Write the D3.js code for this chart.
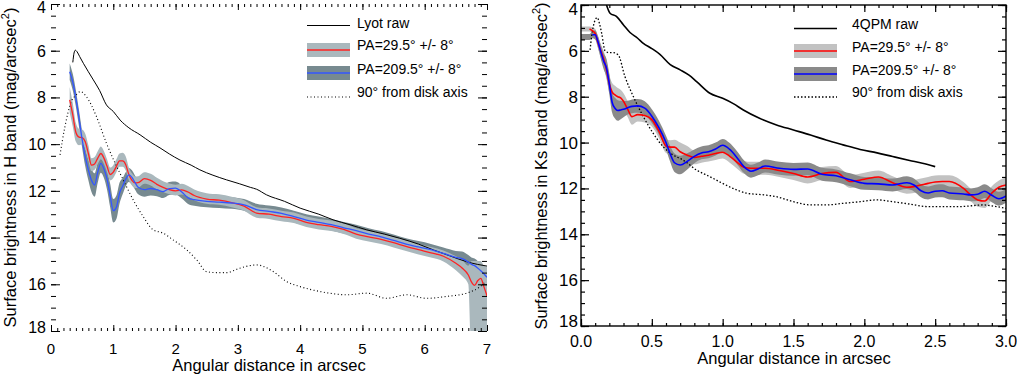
<!DOCTYPE html>
<html>
<head>
<meta charset="utf-8">
<script src="https://cdn.jsdelivr.net/npm/d3@7"></script>
<style>
    body { margin: 0; background: #fff; }
    svg { font-family: "Liberation Sans", Arial, Helvetica, sans-serif; display: block; }
</style>
</head>
<body>
<svg width="1017" height="376"></svg>
<script>
// ---------- H band, Lyot coronagraph (left) ----------
var hX = [0.30,0.35,0.40,0.45,0.50,0.55,0.60,0.65,0.70,0.75,0.80,0.85,0.90,0.95,1.00,1.05,1.10,1.15,1.20,1.25,
          1.30,1.35,1.40,1.50,1.60,1.70,1.80,1.90,2.00,2.10,2.20,2.30,2.50,2.70,2.90,3.10,3.30,3.50,3.70,3.90,
          4.10,4.30,4.50,4.70,4.90,5.10,5.30,5.50,5.70,5.90,6.10,6.30,6.50,6.60,6.70,6.75,6.80,6.85,6.90,6.95,7.00];
var hRed = [8.1,8.75,9.5,9.7,9.72,9.9,10.4,10.9,10.85,10.6,10.4,10.6,10.95,11.3,11.2,10.95,10.72,10.72,10.88,11.3,
            11.55,11.66,11.65,11.48,11.55,11.72,11.85,11.95,12.0,11.96,12.05,12.2,12.35,12.4,12.5,12.65,12.95,13.0,13.1,13.18,
            13.35,13.45,13.52,13.65,13.85,13.97,14.08,14.22,14.38,14.52,14.65,14.8,15.1,15.3,15.6,15.9,16.05,15.85,15.75,16.1,16.5];
var hRedUp = [0.55,0.5,0.4,0.35,0.35,0.35,0.35,0.3,0.3,0.3,0.3,0.3,0.3,0.3,0.3,0.3,0.32,0.35,0.35,0.3,
              0.3,0.28,0.28,0.28,0.28,0.28,0.26,0.26,0.26,0.26,0.26,0.26,0.25,0.25,0.25,0.25,0.25,0.25,0.25,0.25,
              0.25,0.25,0.25,0.25,0.25,0.25,0.25,0.25,0.25,0.25,0.25,0.25,0.3,0.35,0.4,0.9,1.05,0.85,0.75,0.9,1.25];
var hRedDn = [0.55,0.5,0.4,0.35,0.3,0.3,0.3,0.25,0.25,0.25,0.25,0.25,0.25,0.25,0.25,0.25,0.25,0.25,0.25,0.25,
              0.22,0.22,0.22,0.22,0.22,0.22,0.2,0.2,0.2,0.2,0.2,0.2,0.2,0.2,0.2,0.2,0.2,0.2,0.2,0.2,
              0.2,0.2,0.2,0.2,0.2,0.2,0.2,0.2,0.2,0.2,0.2,0.22,0.3,0.35,0.4,3,3,3,3,3,3];
var hBlue = [6.9,7.35,8.05,8.9,9.8,10.55,11.1,11.55,11.75,11.2,10.82,11.05,11.5,12.2,12.85,12.7,12.1,11.8,11.5,11.32,
             11.42,11.65,11.85,11.95,11.9,11.95,12.03,11.9,11.88,12.05,12.3,12.38,12.45,12.48,12.52,12.6,12.8,12.88,12.96,13.1,
             13.25,13.35,13.45,13.58,13.7,13.85,13.97,14.12,14.28,14.4,14.52,14.68,14.85,14.9,15.05,15.15,15.2,15.3,15.42,15.55,15.7];
var hBlueErr = [0.35,0.35,0.35,0.35,0.35,0.4,0.45,0.5,0.5,0.45,0.4,0.4,0.45,0.5,0.5,0.5,0.45,0.35,0.3,0.3,
                0.3,0.3,0.3,0.3,0.3,0.28,0.28,0.28,0.28,0.28,0.26,0.26,0.25,0.25,0.25,0.25,0.25,0.25,0.25,0.25,
                0.25,0.25,0.25,0.25,0.25,0.25,0.25,0.25,0.25,0.25,0.25,0.25,0.28,0.3,0.3,0.3,0.3,0.3,0.3,0.3,0.3];
var hRawX = [0.35,0.37,0.39,0.42,0.46,0.52,0.60,0.68,0.78,0.89,1.00,1.11,1.25,1.43,1.60,1.75,1.90,2.07,2.25,2.39,
             2.60,2.82,3.03,3.20,3.30,3.46,3.75,4.00,4.30,4.53,4.80,5.07,5.35,5.60,5.90,6.14,6.40,6.67,6.85,7.00];
var hRawY = [6.5,6.1,5.98,6.05,6.25,6.54,6.9,7.25,7.7,8.32,8.6,8.97,9.3,9.6,9.92,10.16,10.42,10.68,10.9,11.1,
             11.33,11.53,11.7,11.85,11.93,12.17,12.45,12.74,13.0,13.24,13.45,13.67,13.85,14.03,14.28,14.53,14.78,15.03,15.15,15.22];
var hPerpX = [0.145,0.22,0.33,0.40,0.47,0.57,0.73,0.89,1.03,1.16,1.32,1.48,1.64,1.80,1.96,2.18,2.34,2.50,2.66,2.82,
              3.03,3.30,3.57,3.78,4.00,4.32,4.75,5.07,5.39,5.71,6.03,6.35,6.67,6.89,6.98];
var hPerpY = [10.46,9.3,8.15,7.9,7.75,7.97,8.82,9.96,10.82,11.53,12.39,13.1,13.67,13.81,14.1,14.53,14.96,15.46,15.5,15.5,
              15.31,15.17,15.46,15.88,16.1,16.31,16.45,16.38,16.6,16.45,16.6,16.52,16.38,16.1,15.88];
var hXTicks = [0, 1, 2, 3, 4, 5, 6, 7];
var hXLabels = ["0", "1", "2", "3", "4", "5", "6", "7"];
var hYTicks = [4, 6, 8, 10, 12, 14, 16, 18];
var hLegend = ["Lyot raw", "PA=29.5\u00b0 +/- 8\u00b0", "PA=209.5\u00b0 +/- 8\u00b0", "90\u00b0 from disk axis"];

// ---------- Ks band, 4QPM coronagraph (right) ----------
var ksX = [0,0.06,0.08,0.10,0.12,0.14,0.16,0.18,0.20,0.22,0.24,0.26,0.28,0.30,0.33,0.36,0.40,0.45,0.50,0.55,
           0.60,0.63,0.66,0.70,0.75,0.80,0.85,0.90,0.95,1.00,1.05,1.10,1.15,1.20,1.25,1.30,1.40,1.50,1.60,1.70,
           1.80,1.90,2.00,2.10,2.20,2.30,2.35,2.40,2.45,2.50,2.55,2.60,2.70,2.75,2.80,2.85,2.90,2.95,3.00];
var ksRed = [5.05,5.05,5.12,5.24,5.65,6.0,6.35,6.83,7.45,7.8,7.92,8.0,8.05,8.2,8.55,8.87,8.78,8.82,9.0,9.5,
             10.15,10.2,10.2,10.4,10.55,10.65,10.6,10.55,10.48,10.42,10.6,10.85,11.08,11.12,11.12,11.12,11.22,11.35,11.5,11.35,
             11.3,11.7,11.6,11.5,11.75,11.95,11.92,11.85,11.78,11.72,11.7,11.7,12.0,12.28,12.5,12.55,12.2,11.95,11.85];
var ksRedErr = [0.11,0.11,0.15,0.2,0.25,0.3,0.35,0.4,0.4,0.4,0.4,0.38,0.35,0.35,0.35,0.35,0.3,0.3,0.3,0.3,
                0.3,0.3,0.32,0.4,0.4,0.3,0.28,0.28,0.28,0.28,0.28,0.28,0.28,0.28,0.28,0.28,0.28,0.28,0.28,0.28,
                0.28,0.28,0.28,0.28,0.28,0.28,0.28,0.28,0.28,0.28,0.28,0.28,0.28,0.28,0.3,0.3,0.3,0.3,0.3];
var ksBlue = [5.4,5.4,5.3,5.3,5.6,6.05,6.45,6.75,7.45,8.25,8.5,8.6,8.58,8.55,8.48,8.42,8.4,8.5,8.85,9.35,
              10.0,10.5,10.88,10.98,10.82,10.6,10.45,10.4,10.28,10.12,10.3,10.65,11.05,11.25,11.15,11.02,11.12,11.17,11.15,11.38,
              11.45,11.62,11.78,11.8,11.85,11.75,11.85,12.1,12.2,12.12,12.1,12.2,12.24,12.28,12.25,12.12,12.3,12.45,12.33];
var ksBlueErr = [0.13,0.13,0.15,0.2,0.25,0.3,0.35,0.4,0.45,0.45,0.45,0.45,0.4,0.35,0.3,0.3,0.3,0.3,0.3,0.3,
                 0.3,0.35,0.4,0.4,0.35,0.3,0.28,0.28,0.28,0.28,0.28,0.28,0.28,0.28,0.28,0.28,0.28,0.28,0.28,0.28,
                 0.28,0.28,0.28,0.28,0.28,0.28,0.28,0.28,0.28,0.28,0.28,0.28,0.28,0.28,0.3,0.3,0.3,0.3,0.3];
var ksRawX = [0.18,0.205,0.25,0.30,0.346,0.40,0.44,0.50,0.557,0.63,0.70,0.76,0.816,0.91,1.0,1.075,1.146,1.26,1.38,1.5,
              1.62,1.73,1.85,1.97,2.09,2.2,2.32,2.41,2.5];
var ksRawY = [4.0,4.36,4.5,4.87,5.2,5.45,5.67,5.9,6.15,6.6,6.83,7.05,7.34,7.85,8.07,8.3,8.58,8.94,9.23,9.45,
              9.67,9.89,10.1,10.3,10.45,10.61,10.78,10.9,11.05];
var ksPerpX = [0.064,0.075,0.10,0.115,0.13,0.146,0.17,0.20,0.228,0.263,0.31,0.37,0.44,0.51,0.58,0.65,0.72,0.816,0.91,1.0,
               1.1,1.17,1.29,1.38,1.5,1.62,1.73,1.85,1.97,2.09,2.2,2.32,2.44,2.56,2.68,2.84,2.92,3.0];
var ksPerpY = [5.96,5.38,4.65,4.55,4.8,5.24,6.0,6.08,6.08,6.18,7.12,8.0,8.87,9.6,10.18,10.54,10.76,11.2,11.49,11.78,
               12.07,12.21,12.28,12.36,12.58,12.72,12.72,12.65,12.58,12.5,12.58,12.68,12.79,12.79,12.79,12.72,12.78,12.87];
var ksXTicks = [0, 0.5, 1, 1.5, 2, 2.5, 3];
var ksXLabels = ["0.0", "0.5", "1.0", "1.5", "2.0", "2.5", "3.0"];
var ksYTicks = [4, 6, 8, 10, 12, 14, 16, 18];
var ksLegend = ["4QPM raw", "PA=29.5\u00b0 +/- 8\u00b0", "PA=209.5\u00b0 +/- 8\u00b0", "90\u00b0 from disk axis"];

var svg = d3.select("svg");

function drawPanel(p) {
    var x = d3.scaleLinear().domain(p.xDomain).range([p.left, p.right]);
    var y = d3.scaleLinear().domain([4, 18]).range([p.top, p.bottom]);

    var g = svg.append("g");

    g.append("clipPath")
        .attr("id", "clip-" + p.id)
        .append("rect")
        .attr("x", p.left)
        .attr("y", p.top)
        .attr("width", p.right - p.left)
        .attr("height", p.bottom - p.top);

    var plot = g.append("g").attr("clip-path", "url(#clip-" + p.id + ")");

    var rows = p.gridX.map(function (v, i) {
        return {x: v, red: p.red[i], redUp: p.redUp[i], redDn: p.redDn[i],
                blue: p.blue[i], blueErr: p.blueErr[i]};
    });

    // error bands
    var lightArea = d3.area().curve(d3.curveMonotoneX)
        .x(function (d) { return x(d.x); })
        .y0(function (d) { return y(d.red + d.redDn); })
        .y1(function (d) { return y(d.red - d.redUp); });
    var darkArea = d3.area().curve(d3.curveMonotoneX)
        .x(function (d) { return x(d.x); })
        .y0(function (d) { return y(d.blue + d.blueErr); })
        .y1(function (d) { return y(d.blue - d.blueErr); });
    var bands = [[lightArea, p.lightBand], [darkArea, p.darkBand]];
    if (p.lightOnTop) bands.reverse();
    bands.forEach(function (b) {
        plot.append("path")
            .datum(rows)
            .attr("fill", b[1])
            .attr("d", b[0]);
    });

    var line = d3.line().curve(d3.curveMonotoneX)
        .x(function (d) { return x(d[0]); })
        .y(function (d) { return y(d[1]); });

    plot.append("path") // 90 deg from disk axis
        .datum(d3.zip(p.perpX, p.perpY))
        .attr("fill", "none")
        .attr("stroke", "#000")
        .attr("stroke-width", p.perpWidth)
        .attr("stroke-dasharray", p.perpDash)
        .attr("d", line);
    plot.append("path") // raw profile
        .datum(d3.zip(p.rawX, p.rawY))
        .attr("fill", "none")
        .attr("stroke", "#000")
        .attr("stroke-width", p.rawWidth)
        .attr("d", line);

    var redLine = rows.filter(function (d) { return d.x >= p.redFrom; })
        .map(function (d) { return [d.x, d.red]; });
    var blueLine = rows.filter(function (d) { return d.x >= p.blueFrom; })
        .map(function (d) { return [d.x, d.blue]; });
    plot.append("path")
        .datum(redLine)
        .attr("fill", "none")
        .attr("stroke", p.redColor)
        .attr("stroke-width", p.lineWidth)
        .attr("d", line);
    plot.append("path")
        .datum(blueLine)
        .attr("fill", "none")
        .attr("stroke", p.blueColor)
        .attr("stroke-width", p.lineWidth)
        .attr("d", line);

    // frame (right panel only)
    if (p.frame) {
        g.append("rect")
            .attr("x", p.left)
            .attr("y", p.top)
            .attr("width", p.right - p.left)
            .attr("height", p.bottom - p.top)
            .attr("fill", "none")
            .attr("stroke", "#000")
            .attr("stroke-width", 1.4);
    }

    // inward ticks on all four sides
    function ticks(axisFn, scale, values, size, tr) {
        g.append("g")
            .attr("transform", tr)
            .call(axisFn(scale).tickValues(values).tickSize(size).tickFormat(""))
            .call(function (s) { s.select(".domain").remove(); })
            .selectAll("line").attr("stroke-width", p.tickWidth);
    }
    var xMinor = d3.range(p.xDomain[0], p.xDomain[1] + 1e-6, p.xMinorStep);
    var yMinor = d3.range(4, 18 + 1e-6, 0.5);
    ticks(d3.axisBottom, x, xMinor, -p.xMinorLen, "translate(0," + p.bottom + ")");
    ticks(d3.axisBottom, x, p.xTicks, -p.xMajorLen, "translate(0," + p.bottom + ")");
    ticks(d3.axisTop, x, xMinor, -p.xMinorLen, "translate(0," + p.top + ")");
    ticks(d3.axisTop, x, p.xTicks, -p.xMajorLen, "translate(0," + p.top + ")");
    ticks(d3.axisLeft, y, yMinor, -p.yMinorLen, "translate(" + p.left + ",0)");
    ticks(d3.axisLeft, y, p.yTicks, -p.yMajorLen, "translate(" + p.left + ",0)");
    ticks(d3.axisRight, y, yMinor, -p.yMinorLen, "translate(" + p.right + ",0)");
    ticks(d3.axisRight, y, p.yTicks, -p.yMajorLen, "translate(" + p.right + ",0)");

    // tick labels
    g.selectAll(".xlab")
        .data(p.xTicks)
        .enter()
        .append("text")
        .attr("x", function (d) { return x(d); })
        .attr("y", p.xLabelY)
        .attr("text-anchor", "middle")
        .attr("font-size", p.xLabelSize)
        .text(function (d, i) { return p.xLabels[i]; });
    g.selectAll(".ylab")
        .data(p.yTicks)
        .enter()
        .append("text")
        .attr("x", p.yLabelX)
        .attr("y", function (d) {
            return Math.max(p.yLabMin, Math.min(p.yLabMax, y(d))) + p.yLabShift;
        })
        .attr("text-anchor", "end")
        .attr("font-size", p.yLabelSize)
        .text(function (d) { return d; });

    // axis titles
    g.append("text")
        .attr("x", p.xTitle[0])
        .attr("y", p.xTitle[1])
        .attr("text-anchor", "middle")
        .attr("font-size", 16.5)
        .text("Angular distance in arcsec");
    var yt = g.append("text")
        .attr("transform", "translate(" + p.yTitle[0] + "," + p.yTitle[1] + ") rotate(-90)")
        .attr("text-anchor", "middle")
        .attr("font-size", 16.5);
    yt.append("tspan").text("Surface brightness in " + p.band + " band (mag/arcsec");
    yt.append("tspan").attr("dy", -7).attr("font-size", 11).text("2");
    yt.append("tspan").attr("dy", 7).text(")");

    // legend
    var L = p.legend;
    g.append("line") // raw
        .attr("x1", L.x0).attr("x2", L.x1)
        .attr("y1", L.rowY[0]).attr("y2", L.rowY[0])
        .attr("stroke", "#000").attr("stroke-width", p.rawWidth);
    [[p.lightBand, p.redColor], [p.darkBand, p.blueColor]].forEach(function (c, i) {
        g.append("rect")
            .attr("x", L.x0).attr("width", L.x1 - L.x0)
            .attr("y", L.rowY[i + 1] - 7).attr("height", 14)
            .attr("fill", c[0]);
        g.append("line")
            .attr("x1", L.x0).attr("x2", L.x1)
            .attr("y1", L.rowY[i + 1]).attr("y2", L.rowY[i + 1])
            .attr("stroke", c[1]).attr("stroke-width", 1.6);
    });
    g.append("line") // 90 deg
        .attr("x1", L.x0).attr("x2", L.x1)
        .attr("y1", L.rowY[3]).attr("y2", L.rowY[3])
        .attr("stroke", "#000").attr("stroke-width", p.perpWidth)
        .attr("stroke-dasharray", p.perpDash);
    g.selectAll(".leg")
        .data(p.legendText)
        .enter()
        .append("text")
        .attr("x", L.tx)
        .attr("y", function (d, i) { return L.textY[i]; })
        .attr("font-size", 14)
        .text(function (d) { return d; });
}

drawPanel({
    id: "h", band: "H", xDomain: [0, 7],
    left: 51, right: 487, top: 4, bottom: 331, frame: false, lightOnTop: true,
    gridX: hX, red: hRed, redUp: hRedUp, redDn: hRedDn, blue: hBlue, blueErr: hBlueErr,
    rawX: hRawX, rawY: hRawY, perpX: hPerpX, perpY: hPerpY,
    redFrom: 0, blueFrom: 0,
    lightBand: "#aab8bd", darkBand: "#778a90", redColor: "#ff2222", blueColor: "#3356ff",
    lineWidth: 1.3, rawWidth: 1, perpWidth: 1.1, perpDash: "1,2.5",
    xTicks: hXTicks, xLabels: hXLabels, yTicks: hYTicks, xMinorStep: 0.1,
    xMinorLen: 3, xMajorLen: 6, yMinorLen: 5, yMajorLen: 9, tickWidth: 1,
    xLabelY: 354, xLabelSize: 15, yLabelX: 46, yLabelSize: 16,
    yLabMin: 7.5, yLabMax: 327, yLabShift: 5.8,
    xTitle: [269, 371], yTitle: [15.5, 167.5],
    legend: {x0: 307, x1: 350, tx: 357, rowY: [25.5, 50, 73, 97], textY: [28, 50, 74, 97]},
    legendText: hLegend
});

drawPanel({
    id: "ks", band: "Ks", xDomain: [0, 3],
    left: 581, right: 1006, top: 5, bottom: 326, frame: true, lightOnTop: false,
    gridX: ksX, red: ksRed, redUp: ksRedErr, redDn: ksRedErr, blue: ksBlue, blueErr: ksBlueErr,
    rawX: ksRawX, rawY: ksRawY, perpX: ksPerpX, perpY: ksPerpY,
    redFrom: 0.06, blueFrom: 0.08,
    lightBand: "#c2c2c2", darkBand: "#8a8a8a", redColor: "#ff0000", blueColor: "#0000ff",
    lineWidth: 1.6, rawWidth: 1.6, perpWidth: 1.3, perpDash: "1.5,2",
    xTicks: ksXTicks, xLabels: ksXLabels, yTicks: ksYTicks, xMinorStep: 0.1,
    xMinorLen: 3, xMajorLen: 7, yMinorLen: 4, yMajorLen: 8, tickWidth: 1.2,
    xLabelY: 347, xLabelSize: 16, yLabelX: 578, yLabelSize: 17,
    yLabMin: 8.5, yLabMax: 320.5, yLabShift: 6,
    xTitle: [794, 363.5], yTitle: [547, 166],
    legend: {x0: 794, x1: 837, tx: 852, rowY: [28.5, 51, 74, 97], textY: [29, 51.5, 75, 97]},
    legendText: ksLegend
});
</script>
</body>
</html>
